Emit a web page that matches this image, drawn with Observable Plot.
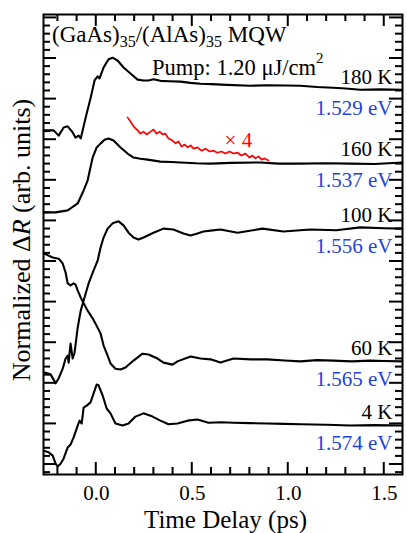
<!DOCTYPE html>
<html><head><meta charset="utf-8">
<script src="https://cdn.jsdelivr.net/npm/d3@7"></script>
<script src="https://cdn.jsdelivr.net/npm/@observablehq/plot@0.6"></script>
<style>html,body{margin:0;padding:0;background:#fff}svg{display:block}</style>
</head><body><div id="chart"></div>
<script>
// ---- data (time delay in ps, normalized ΔR in arb. units, offset stacked) ----
const temps = ["180 K", "160 K", "100 K", "60 K", "4 K"];
const energies = ["1.529 eV", "1.537 eV", "1.556 eV", "1.565 eV", "1.574 eV"];

const time180 = [-0.274,-0.238,-0.222,-0.196,-0.170,-0.149,-0.123,-0.108,-0.092,-0.081,-0.055,-0.029,-0.009,0.007,0.017,0.038,0.064,0.085,0.111,0.142,0.178,0.215,0.246,0.272,0.298,0.334,0.380,0.439,0.490,0.543,0.600,0.680,0.803,0.900,1.063,1.150,1.235,1.300,1.375,1.480,1.594];
const dr180   = [8.23,8.23,8.23,8.10,8.30,8.33,8.18,8.05,8.10,8.03,8.55,9.04,9.46,9.56,9.51,9.78,9.98,10.02,9.95,9.78,9.63,9.48,9.46,9.46,9.49,9.45,9.44,9.43,9.40,9.38,9.37,9.35,9.33,9.34,9.33,9.30,9.28,9.26,9.23,9.24,9.23];

const time160 = [-0.274,-0.212,-0.149,-0.097,-0.066,-0.045,-0.019,0.002,0.023,0.043,0.064,0.090,0.126,0.163,0.194,0.230,0.267,0.334,0.390,0.439,0.520,0.595,0.700,0.855,0.950,1.063,1.200,1.323,1.450,1.594];
const dr160   = [6.21,6.21,6.26,6.43,6.75,7.00,7.56,7.81,7.91,8.00,8.03,7.98,7.81,7.66,7.56,7.53,7.51,7.46,7.45,7.44,7.42,7.41,7.43,7.44,7.41,7.41,7.42,7.41,7.40,7.44];

const time100 = [-0.274,-0.238,-0.212,-0.196,-0.175,-0.160,-0.149,-0.144,-0.134,-0.123,-0.113,-0.097,-0.081,-0.066,-0.040,-0.014,0.007,0.022,0.038,0.059,0.085,0.116,0.142,0.168,0.194,0.220,0.246,0.298,0.350,0.402,0.454,0.491,0.527,0.558,0.595,0.647,0.736,0.866,0.975,1.115,1.250,1.375,1.500,1.594];
const dr100   = [2.27,2.22,2.00,2.12,2.36,2.61,2.68,2.51,2.98,2.61,2.76,3.37,3.79,4.04,4.46,4.78,5.02,5.34,5.59,5.81,5.94,5.99,5.89,5.71,5.59,5.54,5.59,5.71,5.81,5.79,5.69,5.64,5.69,5.74,5.76,5.79,5.71,5.81,5.74,5.79,5.77,5.84,5.82,5.81];

const time60 = [-0.274,-0.227,-0.196,-0.175,-0.160,-0.149,-0.134,-0.118,-0.108,-0.097,-0.081,-0.066,-0.045,-0.019,-0.004,0.022,0.038,0.059,0.074,0.100,0.126,0.152,0.194,0.241,0.272,0.319,0.350,0.397,0.423,0.491,0.543,0.595,0.647,0.715,0.803,0.891,0.980,1.063,1.150,1.235,1.330,1.427,1.500,1.594];
const dr60   = [5.20,5.10,5.07,4.95,4.73,4.46,4.41,4.46,4.43,4.29,4.11,3.97,3.79,3.60,3.47,3.23,2.93,2.68,2.49,2.36,2.34,2.39,2.56,2.73,2.71,2.61,2.51,2.46,2.54,2.66,2.61,2.59,2.51,2.61,2.59,2.59,2.56,2.54,2.57,2.56,2.54,2.56,2.55,2.54];

const time4 = [-0.274,-0.248,-0.227,-0.212,-0.201,-0.186,-0.170,-0.149,-0.134,-0.118,-0.097,-0.087,-0.076,-0.066,-0.050,-0.030,-0.014,0.002,0.012,0.033,0.054,0.074,0.100,0.137,0.168,0.204,0.246,0.293,0.334,0.376,0.423,0.475,0.527,0.584,0.650,0.715,0.800,0.891,0.980,1.063,1.200,1.323,1.450,1.594];
const dr4   = [0.34,0.30,0.22,0.02,-0.05,0.02,0.15,0.42,0.49,0.67,0.96,1.08,1.01,1.40,1.45,1.53,1.75,1.97,1.95,1.70,1.38,1.26,1.01,0.96,1.01,1.18,1.26,1.18,1.08,0.99,1.01,1.08,1.11,1.03,1.04,1.03,1.02,1.01,1.00,0.99,0.98,0.96,0.97,0.96];

// 160 K residual magnified ×4 (red)
const timeX4 = [0.163,0.178,0.194,0.215,0.230,0.246,0.262,0.283,0.298,0.314,0.330,0.345,0.360,0.376,0.397,0.413,0.428,0.444,0.460,0.476,0.491,0.507,0.527,0.548,0.569,0.590,0.611,0.631,0.652,0.673,0.694,0.715,0.736,0.756,0.777,0.798,0.814,0.829,0.845,0.861,0.876,0.897];
const drX4   = [8.55,8.45,8.33,8.23,8.15,8.20,8.13,8.20,8.25,8.15,8.20,8.13,8.15,8.03,7.98,7.91,7.96,7.83,7.88,7.81,7.86,7.78,7.81,7.73,7.78,7.71,7.73,7.68,7.71,7.66,7.71,7.66,7.68,7.61,7.66,7.56,7.61,7.54,7.59,7.51,7.54,7.49];
const magLabel = "× 4";

const xTickLabels = [0, 0.5, 1.0, 1.5];

// ---- build tables ----
const series = [[time180, dr180], [time160, dr160], [time100, dr100], [time60, dr60], [time4, dr4]];
const rows = [];
series.forEach(([ts, vs], k) => ts.forEach((t, i) => rows.push({T: temps[k], t, v: vs[i]})));
const ends = series.map(([ts, vs], k) => ({T: temps[k], E: energies[k], v: vs[vs.length - 1]}));
const redRows = timeX4.map((t, i) => ({t, v: drX4[i]}));

const BLUE = "#1f44d8";
const FONT = "Liberation Serif, Times New Roman, serif";

const plot = Plot.plot({
  width: 407, height: 533,
  marginLeft: 43, marginRight: 5, marginTop: 14, marginBottom: 59,
  x: {domain: [-0.275, 1.595]},
  y: {domain: [-0.246, 11.084]},
  style: {fontFamily: FONT, background: "white", color: "black"},
  marks: [
    Plot.line(rows, {x: "t", y: "v", z: "T", stroke: "black", strokeWidth: 2.1, curve: "linear"}),
    Plot.line(redRows, {x: "t", y: "v", stroke: "#ff0000", strokeWidth: 1.7}),
    Plot.text([magLabel], {x: [0.74], y: [7.98], text: d => d, fill: "#ff0000", fontSize: 21}),
    Plot.text(ends, {y: "v", text: "T", frameAnchor: "right", textAnchor: "end", dx: -10, dy: -13, fontSize: 21, fill: "black"}),
    Plot.text(ends, {y: "v", text: "E", frameAnchor: "right", textAnchor: "end", dx: -10, dy: 18, fontSize: 21, fill: BLUE}),
    Plot.axisX({ticks: xTickLabels, tickFormat: d3.format(".1f"), tickSize: 0, tickPadding: 11, fontSize: 21, label: null}),
    Plot.axisY({ticks: [], label: null}),
    Plot.frame({stroke: "black", strokeWidth: 2})
  ]
});

const svg = d3.select(plot);
const sx = plot.scale("x"), sy = plot.scale("y");
const [x0, x1] = sx.range, [y0, y1] = sy.range; // y0 bottom, y1 top
const g = svg.append("g").attr("stroke", "black").attr("stroke-width", 2).attr("fill", "none");
// x ticks (every 0.1 ps, major every 0.5)
for (const i of d3.range(-2, 16)) {
  const t = i / 10, X = sx.apply(t);
  const L = i % 5 === 0 ? 12 : 7;
  g.append("line").attr("x1", X).attr("x2", X).attr("y1", y0).attr("y2", y0 - L);
  g.append("line").attr("x1", X).attr("x2", X).attr("y1", y1).attr("y2", y1 + L);
}
// y ticks (minor every 0.2, major every 1)
for (const i of d3.range(-1, 56)) {
  const v = i / 5; if (v < -0.246 || v > 11.084) continue;
  const Y = sy.apply(v);
  const L = i % 5 === 0 ? 13 : 7;
  g.append("line").attr("x1", x0).attr("x2", x0 + L).attr("y1", Y).attr("y2", Y);
  g.append("line").attr("x1", x1).attr("x2", x1 - L).attr("y1", Y).attr("y2", Y);
}

// titles
const title = svg.append("text").attr("x", 52).attr("y", 42).attr("text-anchor", "start")
  .attr("font-size", 23).attr("font-family", FONT).attr("fill", "black");
title.append("tspan").text("(GaAs)");
title.append("tspan").attr("font-size", 16).attr("dy", 5).text("35");
title.append("tspan").attr("dy", -5).text("/(AlAs)");
title.append("tspan").attr("font-size", 16).attr("dy", 5).text("35");
title.append("tspan").attr("dy", -5).text(" MQW");

const pump = svg.append("text").attr("x", 152).attr("y", 75).attr("text-anchor", "start")
  .attr("font-size", 22.5).attr("font-family", FONT).attr("fill", "black");
pump.append("tspan").text("Pump: 1.20 μJ/cm");
pump.append("tspan").attr("font-size", 15).attr("dy", -12).text("2");

svg.append("text").attr("x", (x0 + x1) / 2 + 3).attr("y", 527.5).attr("text-anchor", "middle")
  .attr("font-size", 25).attr("font-family", FONT).attr("fill", "black").text("Time Delay (ps)");

const ylab = svg.append("text").attr("transform", `translate(30,${(y0 + y1) / 2 - 4}) rotate(-90)`)
  .attr("text-anchor", "middle").attr("font-size", 26).attr("font-family", FONT).attr("fill", "black");
ylab.append("tspan").text("Normalized Δ");
ylab.append("tspan").attr("font-style", "italic").text("R");
ylab.append("tspan").text(" (arb. units)");

document.getElementById("chart").appendChild(plot);
</script>
</body></html>
